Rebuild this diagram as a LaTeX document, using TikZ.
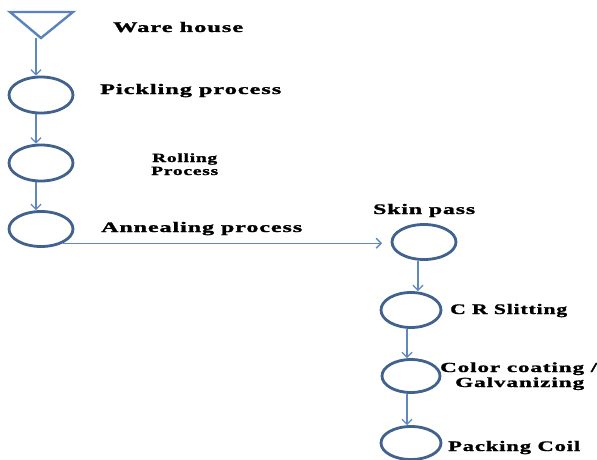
\documentclass[tikz,border=0pt]{standalone}
\usepackage{fontspec}
\setmainfont{Liberation Serif}[LetterSpace=4,BoldFeatures={FakeBold=1.2}]
\usetikzlibrary{shapes.geometric,arrows.meta}
\definecolor{ring}{HTML}{41628F}
\definecolor{arrc}{HTML}{5E88C4}
\newcommand\lbl[3][10.5pt]{\resizebox{#2}{#1}{\rule{0pt}{0.72em}#3}}
\tikzset{
  stage/.style={ellipse,draw=ring,line width=2.8pt,inner sep=0pt},
  arr/.style={draw=arrc,line width=1.3pt,-{Straight Barb[length=5pt,width=10pt,line width=1.3pt]}},
  lab/.style={anchor=base west,inner sep=0pt,font=\bfseries\fontsize{13}{14}\selectfont},
}
\begin{document}
\begin{tikzpicture}[x=1pt,y=-1pt]
\useasboundingbox[fill=white] (0,0) rectangle (597,460);
% warehouse triangle
\coordinate (t1) at (10,12);
\coordinate (t2) at (73,12);
\coordinate (tapex) at (41,38);
\draw[draw=arrc!85!ring,line width=2.4pt,line join=miter] (t1) -- (t2) -- (tapex) -- cycle;
% stages
\node[stage,minimum width=64pt,minimum height=36pt] (p1) at (41,95) {};
\node[stage,minimum width=64pt,minimum height=36pt] (p2) at (41,163) {};
\node[stage,minimum width=64pt,minimum height=35pt] (p3) at (41,229) {};
\node[stage,minimum width=64pt,minimum height=35pt] (s1) at (424,242) {};
\node[stage,minimum width=60pt,minimum height=35pt] (s2) at (411,310) {};
\node[stage,minimum width=58pt,minimum height=33pt] (s3) at (411,376) {};
\node[stage,minimum width=60pt,minimum height=33pt] (s4) at (411,443) {};
% labels
\node[lab] (lw) at (113,32) {\lbl{130pt}{Ware house}};
\node[lab] (lp) at (100,94) {\lbl{181pt}{Pickling process}};
\node[lab] (lr1) at (152,162) {\lbl[9pt]{65pt}{Rolling}};
\node[lab] (lr2) at (151,175) {\lbl[9pt]{67pt}{Process}};
\node[lab] (la) at (101,232) {\lbl{201pt}{Annealing process}};
\node[lab] (ls) at (373,214) {\lbl{102pt}{Skin pass}};
\node[lab] (lc) at (450,314) {\lbl{117pt}{C R Slitting}};
\node[lab] (lcc1) at (440,372) {\lbl[10pt]{157pt}{Color coating /}};
\node[lab] (lcc2) at (455,387) {\lbl[10pt]{129pt}{Galvanizing}};
\node[lab] (lpc) at (448,451) {\lbl{132pt}{Packing Coil}};
% connectors
\draw[arr] ([xshift=-5pt]tapex) -- ([xshift=-5pt]p1.north);
\draw[arr] ([xshift=-5pt]p1.south) -- ([xshift=-5pt]p2.north);
\draw[arr] ([xshift=-5pt]p2.south) -- ([xshift=-5pt]p3.north);
\coordinate (hend) at (382,0);
\draw[arr] (p3.-33) -- (p3.-33 -| hend);
\draw[arr] ([xshift=-6pt]s1.south) -- ([xshift=-6pt]s1.south |- s2.north);
\draw[arr] ([xshift=-4pt]s2.south) -- ([xshift=-4pt]s3.north);
\draw[arr] ([xshift=-4pt]s3.south) -- ([xshift=-4pt]s4.north);
\end{tikzpicture}
\end{document}
